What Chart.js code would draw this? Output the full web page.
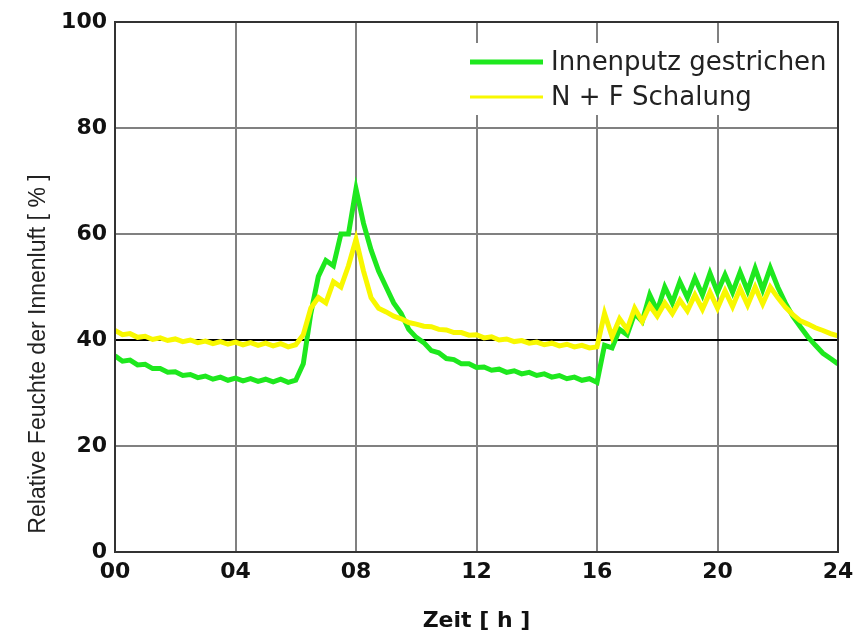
<!DOCTYPE html>
<html lang="de">
<head>
<meta charset="UTF-8">
<title>Relative Feuchte der Innenluft</title>
<script src="https://cdn.jsdelivr.net/npm/chart.js"></script>
<style>
  html, body { margin: 0; padding: 0; background: #fff; }
</style>
</head>
<body>
<canvas id="feuchteChart" width="866" height="637"></canvas>
<script>
// Zeit in Stunden (Raster 0.25 h)
const hours = [
  0, 0.25, 0.5, 0.75, 1, 1.25, 1.5, 1.75, 2, 2.25, 2.5, 2.75,
  3, 3.25, 3.5, 3.75, 4, 4.25, 4.5, 4.75, 5, 5.25, 5.5, 5.75,
  6, 6.25, 6.5, 6.75, 7, 7.25, 7.5, 7.75, 8, 8.25, 8.5, 8.75,
  9, 9.25, 9.5, 9.75, 10, 10.25, 10.5, 10.75, 11, 11.25, 11.5, 11.75,
  12, 12.25, 12.5, 12.75, 13, 13.25, 13.5, 13.75, 14, 14.25, 14.5, 14.75,
  15, 15.25, 15.5, 15.75, 16, 16.25, 16.5, 16.75, 17, 17.25, 17.5, 17.75,
  18, 18.25, 18.5, 18.75, 19, 19.25, 19.5, 19.75, 20, 20.25, 20.5, 20.75,
  21, 21.25, 21.5, 21.75, 22, 22.25, 22.5, 22.75, 23, 23.25, 23.5, 23.75, 24
];

// Innenputz gestrichen (gruen), rel. Feuchte in %
const innenputz = [
  37, 36, 36.2, 35.3, 35.4, 34.6, 34.6, 33.9, 34, 33.3, 33.5, 32.9,
  33.2, 32.6, 33, 32.4, 32.8, 32.3, 32.7, 32.2, 32.6, 32.1, 32.6, 32,
  32.4, 35.5, 45, 52, 55, 54, 60, 60, 68.5, 62, 57, 53,
  50, 47, 45, 42, 40.5, 39.5, 38, 37.6, 36.5, 36.3, 35.5, 35.5,
  34.8, 34.9, 34.3, 34.5, 33.9, 34.2, 33.6, 33.9, 33.3, 33.6, 33, 33.3,
  32.7, 33, 32.4, 32.7, 32, 39, 38.5, 42, 41, 45, 43.5, 48.5,
  45.5, 50, 47, 51, 48, 51.7, 48.5, 52.6, 49, 52.3, 49, 52.8,
  49.3, 53.5, 49.5, 53.6, 50, 47, 44.5, 42.5, 40.6, 39, 37.5, 36.5, 35.5
];

// N + F Schalung (gelb), rel. Feuchte in %
const schalung = [
  41.8, 41, 41.2, 40.5, 40.7, 40.1, 40.4, 39.9, 40.2, 39.7, 40, 39.5,
  39.8, 39.3, 39.7, 39.2, 39.6, 39.1, 39.5, 39, 39.4, 38.9, 39.3, 38.7,
  39.1, 41, 46, 48, 47, 51, 50, 54, 59, 53, 48, 46,
  45.3, 44.5, 44, 43.3, 43, 42.6, 42.5, 42, 41.9, 41.4, 41.4, 40.9,
  41, 40.4, 40.6, 40, 40.2, 39.7, 39.9, 39.4, 39.6, 39.1, 39.4, 38.9,
  39.2, 38.7, 39, 38.5, 38.7, 45, 40.6, 44, 42, 46, 43.5, 46.5,
  44.5, 47, 45, 47.5, 45.5, 48.5, 45.8, 49, 46, 49.3, 46.3, 49.7,
  46.6, 50, 46.8, 50, 48, 46.2, 44.8, 43.6, 43, 42.3, 41.8, 41.2, 40.8
];

const xTickLabels = ['00', '04', '08', '12', '16', '20', '24'];
const seriesLabels = ['Innenputz gestrichen', 'N + F Schalung'];
const seriesColors = ['#1ee81e', '#f8f800'];
const yTitle = 'Relative Feuchte der Innenluft [ % ]';

const toPoints = ys => ys.map((y, i) => ({ x: hours[i], y: y }));

// Legende im Diagramm (weisser Kasten oben rechts)
const innerLegend = {
  id: 'innerLegend',
  afterDatasetsDraw(chart) {
    const ctx = chart.ctx;
    ctx.save();
    ctx.fillStyle = '#fff';
    ctx.fillRect(462, 43, 372, 72);
    const rows = [62, 97];
    const widths = [5, 3];
    ctx.font = '26px "DejaVu Sans"';
    ctx.textBaseline = 'middle';
    rows.forEach((y, i) => {
      ctx.strokeStyle = seriesColors[i];
      ctx.lineWidth = widths[i];
      ctx.beginPath();
      ctx.moveTo(470, y);
      ctx.lineTo(543, y);
      ctx.stroke();
      ctx.fillStyle = '#222';
      ctx.fillText(seriesLabels[i], 551, y + 1);
    });
    ctx.restore();
  }
};

// Rahmen um die Zeichenflaeche und Titel der y-Achse
const frame = {
  id: 'frame',
  afterDraw(chart) {
    const a = chart.chartArea;
    const ctx = chart.ctx;
    ctx.save();
    ctx.strokeStyle = '#333';
    ctx.lineWidth = 2;
    ctx.strokeRect(a.left, a.top, a.right - a.left, a.bottom - a.top);
    ctx.translate(39, 354);
    ctx.rotate(-Math.PI / 2);
    ctx.font = '23px "Liberation Sans"';
    ctx.fillStyle = '#222';
    ctx.textAlign = 'center';
    ctx.textBaseline = 'middle';
    ctx.fillText(yTitle, 0, 0);
    ctx.restore();
  }
};

const ctx = document.getElementById('feuchteChart').getContext('2d');
new Chart(ctx, {
  type: 'line',
  data: {
    datasets: [
      {
        label: seriesLabels[0],
        data: toPoints(innenputz),
        borderColor: seriesColors[0],
        borderWidth: 5,
        pointRadius: 0,
        tension: 0,
        fill: false,
        order: 1
      },
      {
        label: seriesLabels[1],
        data: toPoints(schalung),
        borderColor: seriesColors[1],
        borderWidth: 5,
        pointRadius: 0,
        tension: 0,
        fill: false,
        order: 0
      }
    ]
  },
  options: {
    responsive: false,
    animation: false,
    layout: { padding: { top: 22, right: 28, left: 0, bottom: 0 } },
    plugins: {
      legend: { display: false },
      tooltip: { enabled: false }
    },
    scales: {
      x: {
        type: 'linear',
        min: 0,
        max: 24,
        afterFit: s => { s.height = 85; },
        ticks: {
          stepSize: 4,
          padding: 7,
          color: '#111',
          font: { family: 'DejaVu Sans', size: 22, weight: 'bold' },
          callback: (v, i) => xTickLabels[i]
        },
        grid: { color: '#808080', lineWidth: 2, drawTicks: false },
        border: { color: '#333', width: 2 },
        title: {
          display: true,
          text: 'Zeit [ h ]',
          color: '#111',
          font: { family: 'DejaVu Sans', size: 22, weight: 'bold' },
          padding: { top: 0, bottom: 3 }
        }
      },
      y: {
        min: 0,
        max: 100,
        afterFit: s => { s.width = 115; },
        ticks: {
          stepSize: 20,
          padding: 8,
          color: '#111',
          font: { family: 'DejaVu Sans', size: 22, weight: 'bold' }
        },
        grid: {
          color: c => c.tick && c.tick.value === 40 ? '#000' : '#808080',
          lineWidth: 2,
          drawTicks: false
        },
        border: { color: '#333', width: 2 }
      }
    }
  },
  plugins: [innerLegend, frame]
});
</script>
</body>
</html>
